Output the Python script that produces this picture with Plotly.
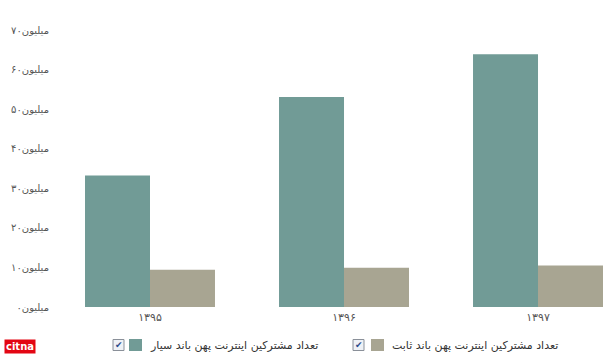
import plotly.graph_objects as go

years = ["۱۳۹۵", "۱۳۹۶", "۱۳۹۷"]
mobile = [33.2, 53.1, 63.9]
fixed = [9.4, 9.9, 10.5]
tick_vals = [0, 10, 20, 30, 40, 50, 60, 70]
tick_text = ["میلیون۰", "میلیون۱۰", "میلیون۲۰", "میلیون۳۰", "میلیون۴۰",
             "میلیون۵۰", "میلیون۶۰", "میلیون۷۰"]
name_mobile = "تعداد مشترکین اینترنت پهن باند سیار"
name_fixed = "تعداد مشترکین اینترنت پهن باند ثابت"

C_MOBILE = "#719b96"
C_FIXED = "#a8a592"
FONT = "Tahoma, DejaVu Sans, sans-serif"

fig = go.Figure()
fig.add_trace(go.Bar(x=years, y=mobile, name=name_mobile, marker_color=C_MOBILE,
                     marker_line_width=0))
fig.add_trace(go.Bar(x=years, y=fixed, name=name_fixed, marker_color=C_FIXED,
                     marker_line_width=0))

W, H = 616, 357
ml, mr, mt, mb = 55, 0, 30, 50

fig.update_layout(
    width=W, height=H,
    margin=dict(l=ml, r=mr, t=mt, b=mb),
    paper_bgcolor="white", plot_bgcolor="white",
    barmode="group", bargap=0.33, bargroupgap=0,
    showlegend=False,
    font=dict(family=FONT, size=11, color="#555555"),
    xaxis=dict(range=[-0.4897, 2.402], showgrid=False, zeroline=False,
               showline=False, ticks="", ticklabelstandoff=2,
               tickfont=dict(size=11, color="#555555")),
    yaxis=dict(range=[0, 70], tickvals=tick_vals, ticktext=tick_text,
               showgrid=False, zeroline=False, showline=False, ticks="",
               ticklabelstandoff=5,
               tickfont=dict(size=10, color="#555555")),
)

# custom RTL legend (paper coords computed from pixels)
def px(x):
    return (x - ml) / (W - ml - mr)

def py(y):
    return (H - mb - y) / (H - mt - mb)

legend_items = [
    (name_mobile, C_MOBILE, 113, 129, 320),
    (name_fixed, C_FIXED, 353, 371, 560),
]
yc = 345
for name, col, cb_x, sq_x, txt_r in legend_items:
    # checkbox
    fig.add_shape(type="rect", xref="paper", yref="paper",
                  x0=px(cb_x), x1=px(cb_x + 11), y0=py(yc + 5.5), y1=py(yc - 5.5),
                  line=dict(color="#8a9099", width=1), fillcolor="#eef1f6")
    fig.add_annotation(xref="paper", yref="paper", x=px(cb_x + 5.5), y=py(yc),
                       text="✔", showarrow=False, xanchor="center", yanchor="middle",
                       font=dict(family="DejaVu Sans", size=9, color="#2b4a8a"))
    # colour swatch
    fig.add_shape(type="rect", xref="paper", yref="paper",
                  x0=px(sq_x), x1=px(sq_x + 13), y0=py(yc + 6), y1=py(yc - 6),
                  line=dict(width=0), fillcolor=col)
    # text
    fig.add_annotation(xref="paper", yref="paper", x=px(txt_r), y=py(yc),
                       text=name, showarrow=False, xanchor="right", yanchor="middle",
                       font=dict(family=FONT, size=11, color="#333333"))

# logo
fig.add_annotation(xref="paper", yref="paper", x=px(4), y=py(346),
                   text="<b>citna</b>", showarrow=False, xanchor="left", yanchor="middle",
                   bgcolor="#e30613", borderpad=1,
                   font=dict(family="DejaVu Sans", size=10, color="white"))

fig.write_html("out.html")
